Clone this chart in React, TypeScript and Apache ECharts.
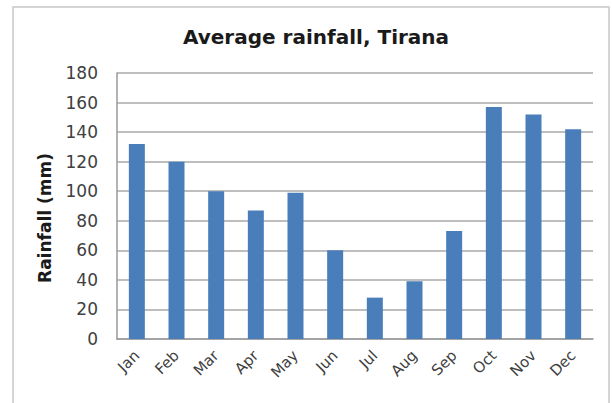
import React, { useEffect, useRef } from "react";
import * as echarts from "echarts";

const months = ["Jan", "Feb", "Mar", "Apr", "May", "Jun", "Jul", "Aug", "Sep", "Oct", "Nov", "Dec"];
const rainfall = [132, 120, 100, 87, 99, 60, 28, 39, 73, 157, 152, 142];
const titleText = "Average rainfall, Tirana";
const yAxisName = "Rainfall (mm)";

export default function App() {
  const ref = useRef<HTMLDivElement>(null);
  useEffect(() => {
    document.body.style.margin = "0";
    const chart = echarts.init(ref.current!, null, { renderer: "svg" });
    chart.setOption({
      animation: false,
      backgroundColor: "#ffffff",
      title: {
        text: titleText,
        left: 178,
        top: 22,
        textStyle: { fontFamily: "DejaVu Sans", fontSize: 20, fontWeight: "bold", color: "#1a1a1a" },
      },
      graphic: [
        {
          type: "rect",
          shape: { x: 13, y: 7, width: 596, height: 410 },
          style: { fill: "none", stroke: "#c8c8c8", lineWidth: 1.5 },
          silent: true,
        },
        {
          type: "text",
          x: 45,
          y: 218,
          rotation: Math.PI / 2,
          style: {
            text: yAxisName,
            fontFamily: "DejaVu Sans",
            fontSize: 17,
            fontWeight: "bold",
            fill: "#1a1a1a",
            align: "center",
            verticalAlign: "middle",
          },
          silent: true,
        },
      ],
      grid: { left: 117, right: 19, top: 73, bottom: 64 },
      xAxis: {
        type: "category",
        data: months,
        axisLine: { lineStyle: { color: "#9a9a9a", width: 1.5 } },
        axisTick: { show: false },
        axisLabel: {
          rotate: 45,
          fontFamily: "DejaVu Sans",
          fontSize: 15,
          color: "#404040",
          margin: 14,
        },
      },
      yAxis: {
        type: "value",
        min: 0,
        max: 180,
        interval: 20,
        axisLine: { show: true, lineStyle: { color: "#9a9a9a", width: 1.5 } },
        axisTick: { show: false },
        axisLabel: { fontFamily: "DejaVu Sans", fontSize: 17, color: "#404040", margin: 19 },
        splitLine: { lineStyle: { color: "#a8a8a8", width: 1.5 } },
      },
      series: [
        {
          type: "bar",
          data: rainfall,
          barWidth: 16,
          itemStyle: { color: "#4a7ebb" },
        },
      ],
    });
    return () => chart.dispose();
  }, []);
  return <div ref={ref} style={{ width: 612, height: 403 }} />;
}
